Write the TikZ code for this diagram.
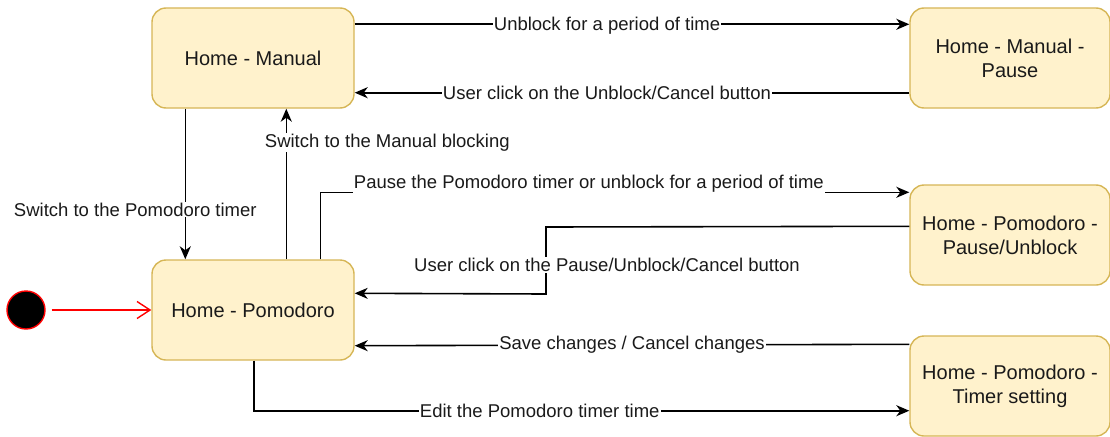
\documentclass[tikz,border=0pt]{standalone}
\usepackage{fontspec}
\setmainfont{Liberation Sans}
\usetikzlibrary{arrows.meta}
\definecolor{statefill}{HTML}{FFF2CC}
\definecolor{stateline}{HTML}{D6B656}
\definecolor{inkgray}{HTML}{1A1A1A}
\definecolor{initred}{HTML}{FF0000}

\begin{document}
\begin{tikzpicture}[x=1pt,y=-1pt,
  state/.style={draw=stateline, fill=statefill, line width=1.4pt,
    rounded corners=14pt, minimum width=202pt, minimum height=100pt,
    align=center, text=inkgray, inner sep=0pt,
    font=\fontsize{20}{24}\selectfont},
  edge/.style={line width=1.6pt, -{Stealth[length=13pt,width=11pt,inset=4pt]}},
  lbl/.style={fill=white, inner sep=1pt, text=inkgray,
    font=\fontsize{18.5}{22}\selectfont},
  initdot/.style={circle, draw=initred, fill=black, line width=1.4pt,
    minimum size=38pt, inner sep=0pt}
]
\useasboundingbox (0,0) rectangle (1110,436);

% states
\node[state] (manual) at (253,58)  {Home - Manual};
\node[state, minimum width=200pt] (mpause) at (1010,58) {Home - Manual -\\Pause};
\node[state] (pomo)   at (253,310) {Home - Pomodoro};
\node[state, minimum width=200pt] (ppause) at (1010,235) {Home - Pomodoro -\\Pause/Unblock};
\node[state, minimum width=200pt] (timer)  at (1010,386) {Home - Pomodoro -\\Timer setting};

% initial state
\node[initdot] (start) at (26,310) {};
\draw[initred, line width=1.4pt, shorten <=6pt,
      -{Straight Barb[length=13pt,width=17pt]}] (start) -- (pomo.west);

% manual <-> manual pause
\draw[edge] ([yshift=-17pt]manual.north east) --
  node[lbl, xshift=-25pt, yshift=-1pt] {Unblock for a period of time} ([yshift=-17pt]mpause.north west);
\draw[edge] ([yshift=16pt]mpause.south west) --
  node[lbl, xshift=-25pt] {User click on the Unblock/Cancel button} ([yshift=16pt]manual.south east);

% manual <-> pomodoro
\draw[edge] ([xshift=34pt]manual.south west) --
  node[lbl, pos=0.67, xshift=-50pt] {Switch to the Pomodoro timer} ([xshift=34pt]pomo.north west);
\draw[edge] ([xshift=135pt]pomo.north west) --
  node[lbl, pos=0.776, xshift=101pt] {Switch to the Manual blocking} ([xshift=135pt]manual.south west);

% pomodoro <-> pause/unblock
\draw[edge] ([xshift=169pt]pomo.north west) |-
  node[lbl, pos=0.728, yshift=9pt] {Pause the Pomodoro timer or unblock for a period of time}
  ([yshift=-8pt]ppause.north west);
\coordinate (k1) at (546,227);
\coordinate (k2) at (546,294);
\draw[edge] ([yshift=-42pt]ppause.north west) -- (k1) --
  node[lbl, pos=0.567, xshift=61pt] {User click on the Pause/Unblock/Cancel button} (k2) --
  ([yshift=-34pt]pomo.north east);

% pomodoro <-> timer setting
\draw[edge] ([yshift=-9pt]timer.north west) --
  node[lbl] {Save changes / Cancel changes} ([yshift=15pt]pomo.south east);
\draw[edge] ([xshift=1pt]pomo.south) |-
  node[lbl, pos=0.718] {Edit the Pomodoro timer time} ([yshift=26pt]timer.south west);
\end{tikzpicture}
\end{document}
